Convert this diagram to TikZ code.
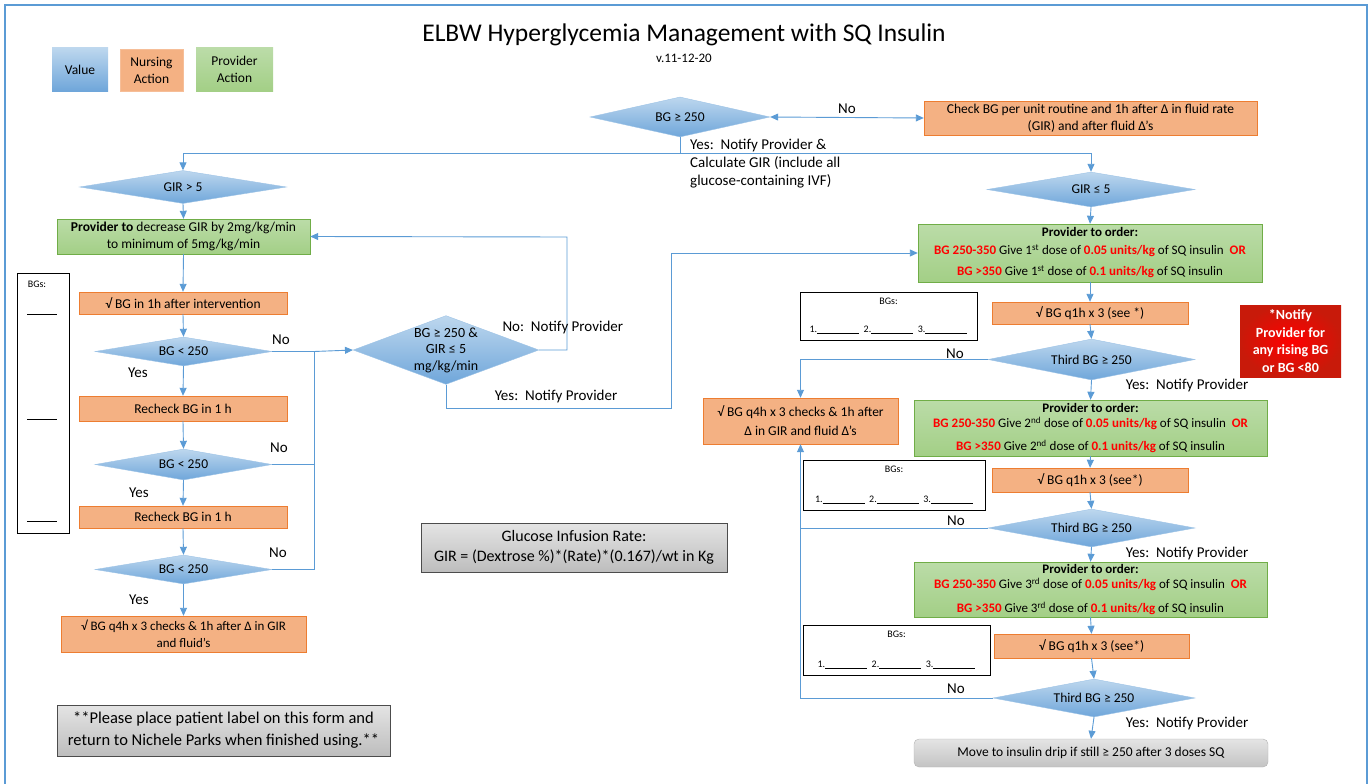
\documentclass[tikz,border=0pt]{standalone}
\usepackage{fontspec}
\setmainfont{Carlito}
\usepackage{xcolor}
\usepackage{tikz}
\usetikzlibrary{shapes,arrows,positioning,calc,arrows.meta}

\definecolor{linkblue}{HTML}{5B9BD5}
\definecolor{valtop}{HTML}{BDD7EE}
\definecolor{valbot}{HTML}{6FA6DA}
\definecolor{nursefill}{HTML}{F4B183}
\definecolor{nurseline}{HTML}{ED7D31}
\definecolor{provtop}{HTML}{BBDCA8}
\definecolor{provfill}{HTML}{A3CF86}
\definecolor{provline}{HTML}{70AD47}
\definecolor{dosered}{HTML}{FF0000}
\definecolor{graytop}{HTML}{E4E4E4}
\definecolor{graybot}{HTML}{BDBDBD}
\definecolor{alertdark}{HTML}{C81A0A}

\newcommand{\redb}[1]{\textcolor{dosered}{\textbf{#1}}}
\newcommand{\blankline}{\rule[-1pt]{42pt}{0.5pt}}

\begin{document}
\begin{tikzpicture}[x=1pt, y=-1pt,
    every node/.style={font=\fontsize{13.5}{17}\selectfont},
    valuediamond/.style={diamond, aspect=#1, inner sep=0pt, draw=linkblue!60, top color=valtop, bottom color=valbot},
    valuediamond/.default=5,
    nursebox/.style={rectangle, draw=nurseline, fill=nursefill, inner sep=1pt, align=center},
    provbox/.style={rectangle, draw=provline, top color=provtop, bottom color=provfill, inner sep=1pt, align=center},
    graybox/.style={rectangle, draw=black!70, line width=0.8pt, top color=graytop, bottom color=graybot, align=center},
    bgsbox/.style={rectangle, draw=black, line width=0.8pt, fill=white},
    wire/.style={draw=linkblue, line width=0.9pt},
    link/.style={wire, -{Triangle[length=8pt,width=7pt]}},
    twoway/.style={wire, {Triangle[length=8pt,width=7pt]}-{Triangle[length=8pt,width=7pt]}},
    tag/.style={font=\fontsize{15}{18}\selectfont},
    dosefont/.style={font=\fontsize{13}{15}\selectfont}]

\useasboundingbox (0,0) rectangle (1370,784);

% page frame
\draw[linkblue, line width=1.5pt] (5,790) -- (5,5) -- (1367,5) -- (1367,790);

% title
\node (title) at (684,35) {\fontsize{25.5}{30}\selectfont ELBW Hyperglycemia Management with SQ Insulin};
\node (version) at (684,58) {\fontsize{13}{15}\selectfont v.11-12-20};

% legend
\node[rectangle, top color=valtop, bottom color=valbot, minimum width=56, minimum height=43] (keyvalue) at (80,69.5) {Value};
\node[nursebox, draw=nurseline!50, minimum width=63, minimum height=42] (keynurse) at (151.5,70) {Nursing\\Action};
\node[provbox, draw=none, minimum width=77, minimum height=43] (keyprov) at (234.5,69.5) {Provider\\Action};

% first check
\node[valuediamond=4.5, minimum width=180, minimum height=40] (bgtop) at (680,117) {BG ≥ 250};
\node[nursebox, minimum width=333, minimum height=34] (routine) at (1090.5,118) {Check BG per unit routine and 1h after Δ in fluid rate\\(GIR) and after fluid Δ’s};
\draw[twoway] (bgtop.east) -- (routine.west) node[midway, above, tag] (notop) {No};

\coordinate (split) at (680,153);
\node[tag, anchor=north west, align=left, inner sep=0pt] (yestop) at (690,139) {Yes:\ \ Notify Provider \&\\Calculate GIR (include all\\glucose-containing IVF)};

% GIR > 5 branch
\node[valuediamond=6.3, minimum width=207, minimum height=33] (girhigh) at (183,187) {GIR > 5};
\node[provbox, minimum width=253, minimum height=35] (decrease) at (183.5,236.5) {\textbf{Provider to} decrease GIR by 2mg/kg/min\\to minimum of 5mg/kg/min};
\node[nursebox, minimum width=208, minimum height=22] (check1) at (183,303) {√ BG in 1h after intervention};
\node[valuediamond=6.1, minimum width=177, minimum height=29] (bgless1) at (183.5,351.5) {BG < 250};
\node[nursebox, minimum width=208, minimum height=25] (recheck1) at (183,408.5) {Recheck BG in 1 h};
\node[valuediamond=5.7, minimum width=177, minimum height=31] (bgless2) at (183.5,464.5) {BG < 250};
\node[nursebox, minimum width=208, minimum height=22] (recheck2) at (183,517) {Recheck BG in 1 h};
\node[valuediamond=6.1, minimum width=177, minimum height=29] (bgless3) at (183.5,569.5) {BG < 250};
\node[nursebox, minimum width=245, minimum height=36, font=\fontsize{13}{17}\selectfont] (q4hleft) at (183.5,634) {√ BG q4h x 3 checks \& 1h after Δ in GIR\\and fluid’s};

\draw[wire] (bgtop.south) -- (split);
\draw[link] (split) -| (girhigh.north);
\draw[link] (girhigh.south) -- (decrease.north);
\draw[link] (decrease.south) -- (check1.north);
\draw[link] (check1.south) -- (bgless1.north);
\draw[link] (bgless1.south) -- (recheck1.north);
\draw[link] (recheck1.south) -- (bgless2.north);
\draw[link] (bgless2.south) -- (recheck2.north);
\draw[link] (recheck2.south) -- (bgless3.north);
\draw[link] (bgless3.south) -- (q4hleft.north);

\node[tag] (yes1) at (138,373) {Yes};
\node[tag] (yes2) at (139,493) {Yes};
\node[tag] (yes3) at (139,600) {Yes};
\node[tag] (no1) at (281,340) {No};
\node[tag] (no2) at (279,448) {No};
\node[tag] (no3) at (278,553) {No};

% BG log, left
\node[bgsbox, minimum width=52, minimum height=260] (bgsleft) at (43,403) {};
\node[font=\fontsize{10}{12}\selectfont] (bgslefttitle) at (37,284) {BGs:};
\foreach \y in {314,419,521}
    \draw (27,\y) -- (57,\y);

% combined check
\node[valuediamond=2.7, minimum width=182, minimum height=68, align=center, font=\fontsize{14}{16.5}\selectfont] (girboth) at (446,350) {BG ≥ 250 \&\\GIR ≤ 5\\mg/kg/min};
\coordinate (nojoin) at (314,351.5);
\draw[wire] (bgless1.east) -- (nojoin);
\draw[wire] (bgless2.east) -| (nojoin);
\draw[wire] (bgless3.east) -| (nojoin);
\draw[link] (nojoin) -- (girboth.west);

\coordinate (noturn) at (567,237);
\draw[link] (girboth.east) -| (noturn) -- (decrease.east);
\node[tag, anchor=west] (nomid) at (499,327) {No:\ \ Notify Provider};

% GIR <= 5 branch
\node[valuediamond=5.9, minimum width=208, minimum height=35] (girlow) at (1091,189.5) {GIR ≤ 5};
\node[provbox, minimum width=344, minimum height=58, dosefont] (order1) at (1090,253) {\textbf{Provider to order:}\\[3pt]\redb{BG 250-350} Give 1\textsuperscript{st} dose of \redb{0.05 units/kg} of SQ insulin\ \ \redb{OR}\\[6pt]\redb{BG >350} Give 1\textsuperscript{st} dose of \redb{0.1 units/kg} of SQ insulin};
\draw[link] (split) -| (girlow.north);
\draw[link] (girlow.south) -- (order1.north);

\coordinate (yesturn) at (671,408);
\draw[link] (girboth.south) |- (yesturn) |- (order1.west);
\node[tag] (yesmid) at (556,396) {Yes:\ \ Notify Provider};

% first dose loop
\node[nursebox, minimum width=196, minimum height=22] (q1h1) at (1090,313) {√ BG q1h x 3 (see *)};
\node[bgsbox, minimum width=177, minimum height=48] (bgs1) at (888.5,316) {};
\node[valuediamond=5, minimum width=207, minimum height=41] (third1) at (1091.5,359.5) {Third BG ≥ 250};
\node[nursebox, minimum width=195, minimum height=46, font=\fontsize{13.5}{19}\selectfont] (q4hright) at (800.5,421) {√ BG q4h x 3 checks \& 1h after\\Δ in GIR and fluid Δ’s};
\draw[link] (order1.south) -- (q1h1.north);
\draw[link] (q1h1.south) -- (third1.north);
\draw[link] (third1.west) -| (q4hright.north);
\node[tag] (nothird1) at (955,354) {No};
\node[tag] (yesthird1) at (1187,385) {Yes:\ \ Notify Provider};

% second dose loop
\node[provbox, minimum width=353, minimum height=56, dosefont] (order2) at (1090.5,428) {\textbf{Provider to order:}\\\redb{BG 250-350} Give 2\textsuperscript{nd} dose of \redb{0.05 units/kg} of SQ insulin\ \ \redb{OR}\\[8pt]\redb{BG >350} Give 2\textsuperscript{nd} dose of \redb{0.1 units/kg} of SQ insulin};
\node[nursebox, minimum width=196, minimum height=24] (q1h2) at (1090,480) {√ BG q1h x 3 (see*)};
\node[bgsbox, minimum width=182, minimum height=50] (bgs2) at (894,485) {};
\node[valuediamond=5.4, minimum width=207, minimum height=38] (third2) at (1091.5,528) {Third BG ≥ 250};
\draw[link] (third1.south) -- (order2.north);
\draw[link] (order2.south) -- (q1h2.north);
\draw[link] (q1h2.south) -- (third2.north);
\draw[wire] (third2.west) -- (third2.west -| q4hright.south);
\node[tag] (nothird2) at (956,521) {No};
\node[tag] (yesthird2) at (1187,553) {Yes:\ \ Notify Provider};

% third dose loop
\node[provbox, minimum width=353, minimum height=55, dosefont] (order3) at (1090.5,589.5) {\textbf{Provider to order:}\\\redb{BG 250-350} Give 3\textsuperscript{rd} dose of \redb{0.05 units/kg} of SQ insulin\ \ \redb{OR}\\[9pt]\redb{BG >350} Give 3\textsuperscript{rd} dose of \redb{0.1 units/kg} of SQ insulin};
\node[nursebox, minimum width=195, minimum height=24] (q1h3) at (1091.5,646) {√ BG q1h x 3 (see*)};
\node[bgsbox, minimum width=187, minimum height=50] (bgs3) at (896.5,650) {};
\node[valuediamond=5.3, minimum width=202, minimum height=38] (third3) at (1094,698) {Third BG ≥ 250};
\node[rectangle, rounded corners=5pt, draw=black!30, top color=graytop, bottom color=graybot!90, minimum width=354, minimum height=28] (insulin) at (1091,753) {Move to insulin drip if still ≥ 250 after 3 doses SQ};
\draw[link] (third2.south) -- (order3.north);
\draw[link] (order3.south) -- (q1h3.north);
\draw[link] (q1h3.south) -- (third3.north);
\draw[link] (third3.south) -- (insulin.north);
\draw[link] (third3.west) -| (q4hright.south);
\node[tag] (nothird3) at (956,689) {No};
\node[tag] (yesthird3) at (1187,723) {Yes:\ \ Notify Provider};

% BG logs, right
\foreach \logbox in {bgs1,bgs2,bgs3} {
    \node[font=\fontsize{10}{12}\selectfont, below=3pt of \logbox.north] (\logbox head) {BGs:};
    \node[font=\fontsize{10}{12}\selectfont, above=3pt of \logbox.south] (\logbox blanks) {1.\blankline\ \ 2.\blankline\ \ 3.\blankline};
}

% alert
\node[rectangle, inner color=red, outer color=alertdark, minimum width=101, minimum height=72, align=center, text=white, font=\bfseries\fontsize{14}{17.5}\selectfont] (alert) at (1290.5,341) {*Notify\\Provider for\\any rising BG\\or BG <80};

% notes
\node[graybox, minimum width=306, minimum height=49, font=\fontsize{16}{20}\selectfont] (girformula) at (574,547.5) {Glucose Infusion Rate:\\GIR = (Dextrose \%)*(Rate)*(0.167)/wt in Kg};
\node[graybox, minimum width=333, minimum height=51, font=\fontsize{16.5}{22}\selectfont] (patient) at (223.5,730.5) {**Please place patient label on this form and\\return to Nichele Parks when finished using.**};

\end{tikzpicture}
\end{document}
